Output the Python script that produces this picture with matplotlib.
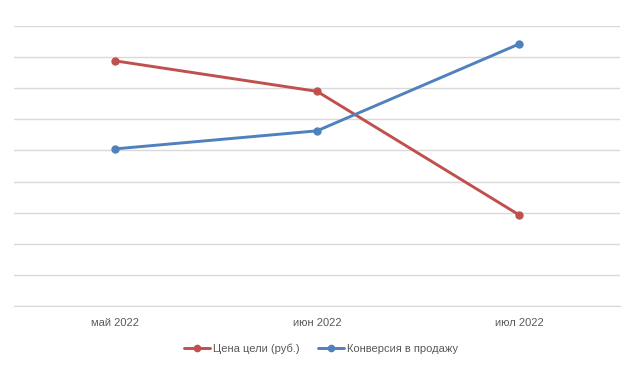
import matplotlib.pyplot as plt

# Данные (условные единицы, сетка 0..9)
months = ['май 2022', 'июн 2022', 'июл 2022']
price = [7.88, 6.90, 2.93]
conversion = [5.05, 5.63, 8.42]

red = '#C0504D'
blue = '#4F81BD'
grid_col = '#D9D9D9'
text_col = '#595959'

plt.rcParams['font.family'] = ['Liberation Sans', 'DejaVu Sans']

fig = plt.figure(figsize=(6.36, 3.69), dpi=100)
ax = fig.add_axes([14 / 636, 1 - 306 / 369, 606 / 636, 280 / 369])

x = range(len(months))
ax.plot(x, price, color=red, linewidth=2.1, marker='o', markersize=5,
        label='Цена цели (руб.)', solid_capstyle='round')
ax.plot(x, conversion, color=blue, linewidth=2.1, marker='o', markersize=5,
        label='Конверсия в продажу', solid_capstyle='round')

ax.set_xlim(-0.5, 2.5)
ax.set_ylim(0, 9)
ax.set_yticks(range(0, 10))
ax.set_yticklabels([])
ax.tick_params(axis='y', length=0)
ax.set_xticks(list(x))
ax.set_xticklabels(months, color=text_col, fontsize=8)
ax.tick_params(axis='x', length=0, pad=9)
ax.grid(axis='y', color=grid_col, linewidth=1)
ax.set_axisbelow(True)
for s in ['top', 'right', 'left']:
    ax.spines[s].set_visible(False)
ax.spines['bottom'].set_color(grid_col)

leg = fig.legend(loc='center', bbox_to_anchor=(321 / 636, 1 - 349 / 369),
                 ncol=2, frameon=False, fontsize=8, handlelength=2.35,
                 handletextpad=0.25, columnspacing=1.6, markerscale=0.9,
                 borderpad=0, borderaxespad=0)
for t in leg.get_texts():
    t.set_color(text_col)

fig.savefig('out.png', dpi=100)
